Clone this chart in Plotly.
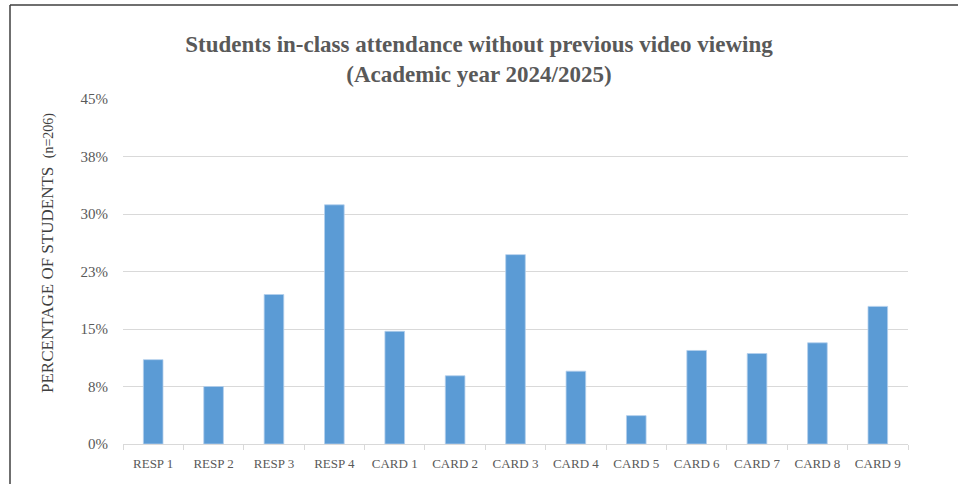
import plotly.graph_objects as go

# Share of students attending class without having watched the video, per activity
categories = ["RESP 1", "RESP 2", "RESP 3", "RESP 4",
              "CARD 1", "CARD 2", "CARD 3", "CARD 4", "CARD 5",
              "CARD 6", "CARD 7", "CARD 8", "CARD 9"]
percent_students = [11.0, 7.5, 19.5, 31.2,
                    14.7, 8.9, 24.7, 9.5, 3.7,
                    12.2, 11.8, 13.2, 17.95]

y_tick_values = [0, 7.5, 15, 22.5, 30, 37.5, 45]
y_tick_labels = ["0%", "8%", "15%", "23%", "30%", "38%", "45%"]

SERIF = "Palatino Linotype, Book Antiqua, Palatino, Liberation Serif, serif"
GREY_TEXT = "#595959"
GRID = "#d9d9d9"

W, H = 958, 484
L, R, T, B = 123, 50, 99, 40
plot_w = W - L - R
plot_h = H - T - B

fig = go.Figure(
    go.Bar(
        x=categories,
        y=percent_students,
        marker=dict(color="#5b9bd5", line=dict(color="#b4cfec", width=0.8)),
        hoverinfo="x+y",
    )
)


def px_x(px):
    return (px - L) / plot_w


def px_y(py):
    return (H - B - py) / plot_h


fig.update_layout(
    width=W,
    height=H,
    margin=dict(l=L, r=R, t=T, b=B, pad=0),
    paper_bgcolor="white",
    plot_bgcolor="white",
    bargap=0.675,
    showlegend=False,
    title=dict(
        text="Students in-class attendance without previous video viewing<br>(Academic year 2024/2025)",
        x=0.5,
        xref="container",
        xanchor="center",
        y=1 - 52 / H,
        yref="container",
        yanchor="middle",
        font=dict(family=SERIF, size=23, color=GREY_TEXT, weight="bold"),
    ),
    xaxis=dict(
        type="category",
        showgrid=False,
        showline=True,
        linecolor=GRID,
        linewidth=1,
        ticks="outside",
        tickson="boundaries",
        ticklen=5,
        tickcolor=GRID,
        tickfont=dict(family=SERIF, size=13, color=GREY_TEXT),
        ticklabelstandoff=7,
    ),
    yaxis=dict(
        range=[0, 45],
        tickvals=y_tick_values,
        ticktext=y_tick_labels,
        showgrid=True,
        gridcolor=GRID,
        gridwidth=1,
        zeroline=False,
        showline=False,
        ticks="",
        tickfont=dict(family=SERIF, size=15, color=GREY_TEXT),
        ticklabelstandoff=14,
    ),
    annotations=[
        dict(
            text="PERCENTAGE OF STUDENTS\u00a0\u00a0<span style='font-size:14px'>(n=206)</span>",
            textangle=-90,
            xref="paper",
            yref="paper",
            x=px_x(47),
            y=px_y(253),
            xanchor="center",
            yanchor="middle",
            showarrow=False,
            font=dict(family=SERIF, size=17, color="#404040"),
        )
    ],
    shapes=[
        # frame lines along the top and left edges
        dict(type="line", xref="paper", yref="paper",
             x0=px_x(10), x1=px_x(W + 5), y0=px_y(5), y1=px_y(5),
             line=dict(color="#3f3f3f", width=1.5)),
        dict(type="line", xref="paper", yref="paper",
             x0=px_x(10), x1=px_x(10), y0=px_y(5), y1=px_y(H + 5),
             line=dict(color="#3f3f3f", width=1.5)),
    ],
)

fig.write_html("out.html")
